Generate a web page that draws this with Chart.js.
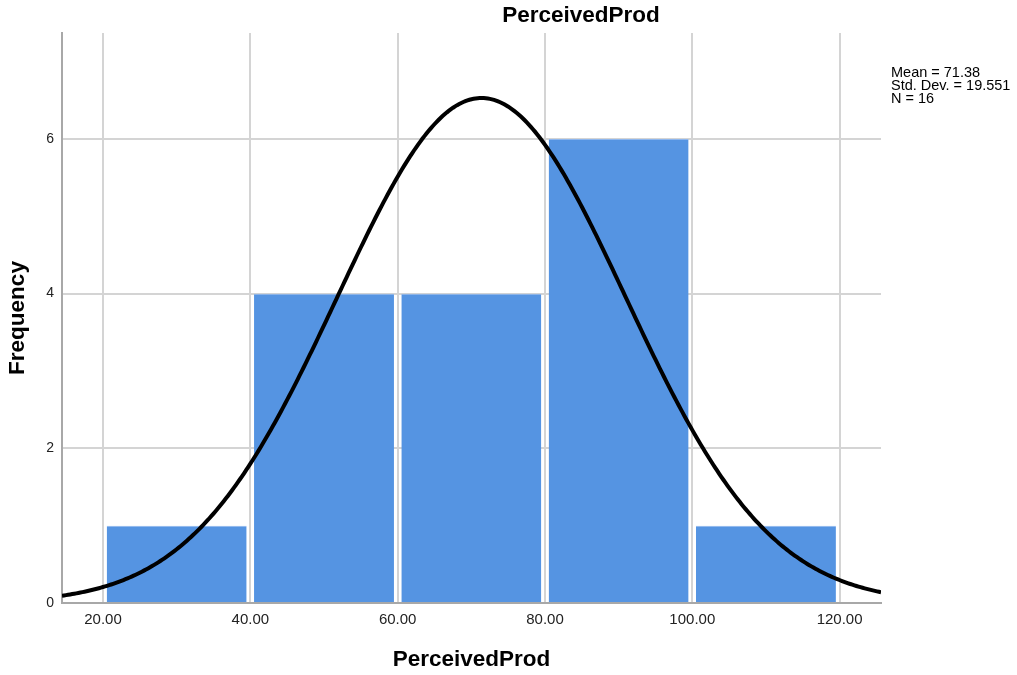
<!DOCTYPE html>
<html>
<head>
<meta charset="utf-8">
<title>PerceivedProd</title>
<script src="https://cdn.jsdelivr.net/npm/chart.js@4"></script>
<style>
  html, body { margin: 0; padding: 0; background: #ffffff; }
  #wrap { width: 1017px; height: 675px; }
</style>
</head>
<body>
<div id="wrap"><canvas id="hist" width="1017" height="675"></canvas></div>
<script>
// Histogram bins (centres) and their counts
const binCenters = [30, 50, 70, 90, 110];
const frequencies = [1, 4, 4, 6, 1];
const binWidth = 20;

// Axis ticks
const xTickValues = [20, 40, 60, 80, 100, 120];
const yTickValues = [0, 2, 4, 6];

// Summary statistics shown beside the plot
const meanValue = 71.38;
const stdDevValue = 19.551;
const nValue = 16;
const statsLines = ['Mean = 71.38', 'Std. Dev. = 19.551', 'N = 16'];

const chartTitle = 'PerceivedProd';
const xTitle = 'PerceivedProd';
const yTitle = 'Frequency';

// Axis ranges
const xMin = 14.43, xMax = 125.62;
const yMin = 0, yMax = 7.37;

// Fitted normal curve scaled to counts (N * bin width * density)
function normalCount(x) {
  const z = (x - meanValue) / stdDevValue;
  return nValue * binWidth * Math.exp(-0.5 * z * z) / (stdDevValue * Math.sqrt(2 * Math.PI));
}
const curvePoints = [];
for (let i = 0; i <= 400; i++) {
  const x = xMin + (xMax - xMin) * i / 400;
  curvePoints.push({ x: x, y: normalCount(x) });
}

const FONT = "'Liberation Sans', Arial, sans-serif";

// Title and statistics text drawn on the canvas
const annotations = {
  id: 'annotations',
  afterDraw(chart) {
    const ctx = chart.ctx;
    ctx.save();
    ctx.fillStyle = '#000';
    ctx.textAlign = 'center';
    ctx.textBaseline = 'middle';
    ctx.font = 'bold 22.5px ' + FONT;
    ctx.fillText(chartTitle, 581, 16);

    ctx.textAlign = 'left';
    ctx.font = '14.5px ' + FONT;
    statsLines.forEach((line, i) => {
      ctx.fillText(line, 891, 73 + i * 13);
    });
    ctx.restore();
  }
};

new Chart(document.getElementById('hist'), {
  data: {
    datasets: [
      {
        type: 'line',
        data: curvePoints,
        borderColor: '#000000',
        borderWidth: 4,
        pointRadius: 0,
        fill: false,
        tension: 0,
        order: 0
      },
      {
        type: 'bar',
        data: binCenters.map((c, i) => ({ x: c, y: frequencies[i] })),
        backgroundColor: '#5594e2',
        borderColor: '#8db6ee',
        borderWidth: { top: 1, left: 0, right: 0, bottom: 0 },
        borderSkipped: 'start',
        barPercentage: 0.95,
        categoryPercentage: 1.0,
        order: 1
      }
    ]
  },
  plugins: [annotations],
  options: {
    responsive: false,
    animation: false,
    events: [],
    layout: { padding: { left: 0, right: 136, top: 33, bottom: 0 } },
    plugins: {
      legend: { display: false },
      tooltip: { enabled: false },
      title: { display: false }
    },
    scales: {
      x: {
        type: 'linear',
        min: xMin,
        max: xMax,
        offset: false,
        afterFit(scale) { scale.height = 72; },
        afterBuildTicks(scale) { scale.ticks = xTickValues.map(v => ({ value: v })); },
        ticks: {
          includeBounds: false,
          padding: 8,
          color: '#222',
          font: { family: FONT, size: 15 },
          maxRotation: 0,
          callback: v => v.toFixed(2)
        },
        grid: { color: '#d4d4d4', lineWidth: 2, drawTicks: false, offset: false },
        border: { display: true, color: '#a8a8a8', width: 2 },
        title: {
          display: true,
          text: xTitle,
          color: '#000',
          font: { family: FONT, size: 22.5, weight: 'bold' },
          padding: { top: 0, bottom: 2 }
        }
      },
      y: {
        type: 'linear',
        min: yMin,
        max: yMax,
        afterFit(scale) { scale.width = 62; },
        afterBuildTicks(scale) { scale.ticks = yTickValues.map(v => ({ value: v })); },
        ticks: {
          includeBounds: false,
          padding: 8,
          color: '#222',
          font: { family: FONT, size: 14 }
        },
        grid: { color: '#d4d4d4', lineWidth: 2, drawTicks: false },
        border: { display: true, color: '#a8a8a8', width: 2 },
        title: {
          display: true,
          text: yTitle,
          color: '#000',
          font: { family: FONT, size: 22.5, weight: 'bold' },
          padding: { top: 4, bottom: 0 }
        }
      }
    }
  }
});
</script>
</body>
</html>
